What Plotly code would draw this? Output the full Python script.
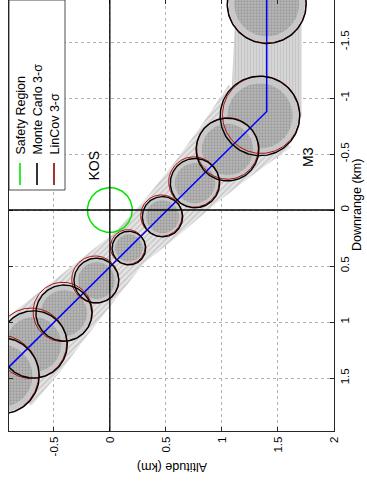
import numpy as np
import plotly.graph_objects as go

# ---------------- data (km) ----------------
# nominal trajectory (blue line): altitude, downrange
nom_alt = [-1.00, 1.40, 1.40]
nom_dr = [1.50, -0.88, -1.95]

# Monte Carlo 3-sigma circles
mc_alt = [1.40, 1.34, 1.05, 0.76, 0.47, 0.17, -0.12, -0.41, -0.68, -0.97]
mc_dr = [-1.84, -0.84, -0.54, -0.24, 0.06, 0.34, 0.63, 0.92, 1.20, 1.48]
mc_r = [0.353, 0.355, 0.28, 0.22, 0.18, 0.15, 0.20, 0.25, 0.30, 0.34]

# LinCov 3-sigma circles
lc_alt = [1.40, 1.35, 1.05, 0.75, 0.46, 0.16, -0.13, -0.42, -0.70, -0.99]
lc_dr = [-1.84, -0.85, -0.55, -0.25, 0.05, 0.33, 0.62, 0.91, 1.19, 1.47]
lc_r = [0.350, 0.345, 0.275, 0.225, 0.185, 0.155, 0.21, 0.265, 0.315, 0.355]

# safety region (KOS)
safe_alt, safe_dr, safe_r = 0.0, 0.0, 0.20

# vertical dispersion band above the bend (altitude limits)
vband_alt = [1.13, 1.71]

# axes
alt_ticks = [-0.5, 0, 0.5, 1, 1.5, 2]
alt_labels = ["-0.5", "0", "0.5", "1", "1.5", "2"]
dr_ticks = [-1.5, -1, -0.5, 0, 0.5, 1, 1.5]
dr_labels = ["-1.5", "-1", "-0.5", "0", "0.5", "1", "1.5"]
alt_range = [-0.9, 2.0005]
dr_range = [1.973, -1.875]

legend_names = ["Safety Region", "Monte Carlo 3-\u03c3", "LinCov 3-\u03c3"]
legend_colors = ["#00e600", "#000000", "#8b0000"]

# ---------------- layout helpers ----------------
W, H = 367, 481
ML, MR, MT, MB = 9, 33, 0, 50
PW, PH = W - ML - MR, H - MT - MB


def px(xp, yp):
    return (xp - ML) / PW, 1 - (yp - MT) / PH


theta = np.linspace(0, 2 * np.pi, 181)


def ring(a, d, r):
    return a + r * np.cos(theta), d + r * np.sin(theta)


FONT = "Liberation Sans, Arial, sans-serif"
fig = go.Figure()

# ---------------- dispersion band (MC trajectories) ----------------
s = 1 / np.sqrt(2)
idx = list(range(1, len(mc_alt)))
up = [(mc_alt[i] + (mc_r[i] + 0.04) * s, mc_dr[i] + (mc_r[i] + 0.04) * s) for i in idx]
lo = [(mc_alt[i] - (mc_r[i] + 0.04) * s, mc_dr[i] - (mc_r[i] + 0.04) * s) for i in idx]
poly = up + lo[::-1]
fig.add_trace(go.Scatter(
    x=[p[0] for p in poly] + [poly[0][0]], y=[p[1] for p in poly] + [poly[0][1]],
    mode="lines", line=dict(width=0), fill="toself", fillcolor="#dedede",
    fillpattern=dict(shape="/", fgcolor="#a9a9a9", bgcolor="#e6e6e6", size=4, solidity=0.4),
    hoverinfo="skip", showlegend=False))
top_dr = min(dr_range) - 0.1
fig.add_trace(go.Scatter(
    x=[vband_alt[0], vband_alt[1], vband_alt[1], mc_alt[1] + mc_r[1] * s, mc_alt[1] - mc_r[1] * s, vband_alt[0]],
    y=[top_dr, top_dr, mc_dr[1], mc_dr[1] + mc_r[1] * s, mc_dr[1] - mc_r[1] * s, top_dr],
    mode="lines", line=dict(width=0), fill="toself", fillcolor="#d2d2d2",
    fillpattern=dict(shape="|", fgcolor="#b4b4b4", bgcolor="#d8d8d8", size=3, solidity=0.45),
    hoverinfo="skip", showlegend=False))

# ---------------- MC point clouds ----------------
for a, d, r in zip(mc_alt, mc_dr, mc_r):
    cx, cy = ring(a, d, r * 0.97)
    fig.add_trace(go.Scatter(x=cx, y=cy, mode="lines", line=dict(width=0),
                             fill="toself", fillcolor="#c8c8c8",
                             hoverinfo="skip", showlegend=False))
    cx, cy = ring(a, d, r * 0.82)
    fig.add_trace(go.Scatter(x=cx, y=cy, mode="lines", line=dict(width=0),
                             fill="toself", fillcolor="#acacac",
                             fillpattern=dict(shape=".", fgcolor="#7e7e7e", bgcolor="#b8b8b8",
                                              size=3, solidity=0.45),
                             hoverinfo="skip", showlegend=False))

# ---------------- nominal trajectory ----------------
fig.add_trace(go.Scatter(x=nom_alt, y=nom_dr, mode="lines",
                         line=dict(color="#0000ff", width=1.5),
                         hoverinfo="skip", showlegend=False))

# ---------------- LinCov & MC circles ----------------
for a, d, r in zip(lc_alt, lc_dr, lc_r):
    cx, cy = ring(a, d, r)
    fig.add_trace(go.Scatter(x=cx, y=cy, mode="lines", line=dict(color="#b01010", width=1),
                             hoverinfo="skip", showlegend=False))
for a, d, r in zip(mc_alt, mc_dr, mc_r):
    cx, cy = ring(a, d, r)
    fig.add_trace(go.Scatter(x=cx, y=cy, mode="lines", line=dict(color="#000000", width=1.4),
                             hoverinfo="skip", showlegend=False))

# safety region
cx, cy = ring(safe_alt, safe_dr, safe_r)
fig.add_trace(go.Scatter(x=cx, y=cy, mode="lines", line=dict(color=legend_colors[0], width=1.5),
                         hoverinfo="skip", showlegend=False))

# ---------------- shapes: cross lines & legend ----------------
shapes = [
    dict(type="line", xref="x domain", yref="y", x0=0, x1=1, y0=0, y1=0,
         line=dict(color="black", width=1.3), layer="above"),
    dict(type="line", xref="x", yref="y domain", x0=0, x1=0, y0=0, y1=1,
         line=dict(color="black", width=1.3), layer="above"),
]
bx0, by0 = px(9, 190)
bx1, by1 = px(65, 0)
shapes.append(dict(type="rect", xref="paper", yref="paper", x0=bx0, x1=bx1, y0=by0, y1=by1,
                   fillcolor="white", line=dict(color="#222", width=0.8), layer="above"))
annotations = []
for k, (name, col) in enumerate(zip(legend_names, legend_colors)):
    xc = 20 + 17 * k
    lx, ly0 = px(xc, 185)
    _, ly1 = px(xc, 163)
    shapes.append(dict(type="line", xref="paper", yref="paper", x0=lx, x1=lx, y0=ly0, y1=ly1,
                       line=dict(color=col, width=1.6), layer="above"))
    tx, ty = px(xc, 157)
    annotations.append(dict(text=name, x=tx, y=ty, xref="paper", yref="paper",
                            xanchor="center", yanchor="bottom", textangle=-90, showarrow=False,
                            font=dict(family=FONT, size=12.5, color="black")))

for txt, (xp, yp), ang, sz in [("KOS", (93.5, 166), -90, 14), ("M3", (307.5, 157.5), -90, 14),
                              ("Downrange (km)", (357, 205), -90, 12.5),
                              ("Altitude (km)", (172, 467), 180, 12.5)]:
    tx, ty = px(xp, yp)
    annotations.append(dict(text=txt, x=tx, y=ty, xref="paper", yref="paper",
                            xanchor="center", yanchor="middle", textangle=ang, showarrow=False,
                            font=dict(family=FONT, size=sz, color="black")))

axis_common = dict(showline=True, linecolor="#262626", linewidth=1, mirror="allticks",
                   ticks="inside", ticklen=4, tickcolor="#262626",
                   showgrid=True, gridcolor="#b0b0b0", griddash="dot", gridwidth=1,
                   zeroline=False, tickangle=-90,
                   tickfont=dict(family=FONT, size=11.5, color="black"))

fig.update_layout(
    width=W, height=H, margin=dict(l=ML, r=MR, t=MT, b=MB),
    paper_bgcolor="white", plot_bgcolor="white",
    xaxis=dict(range=alt_range, tickvals=alt_ticks, ticktext=alt_labels, **axis_common),
    yaxis=dict(range=dr_range, tickvals=dr_ticks, ticktext=dr_labels, side="right",
               **axis_common),
    shapes=shapes, annotations=annotations, showlegend=False,
)

fig.write_html("out.html")
